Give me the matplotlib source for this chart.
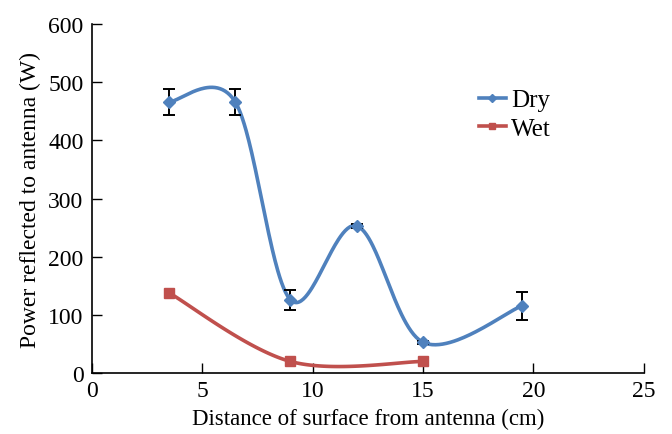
import numpy as np
import matplotlib
matplotlib.use("Agg")
import matplotlib.pyplot as plt

# measured reflected power vs distance of surface from antenna
dry_x = [3.5, 6.5, 9, 12, 15, 19.5]
dry_y = [466, 466, 126, 253, 53, 116]
dry_err = [23, 23, 17, 3, 3, 24]

wet_x = [3.5, 9, 15]
wet_y = [138, 20, 20]

x_ticks = [0, 5, 10, 15, 20, 25]
y_ticks = [0, 100, 200, 300, 400, 500, 600]


def smooth(xs, ys, n=60):
    """Spreadsheet-style smoothed line: cubic Bezier through the points."""
    p = np.column_stack([xs, ys]).astype(float)
    ext = np.vstack([p[0], p, p[-1]])
    out = []
    t = np.linspace(0, 1, n)[:, None]
    for i in range(len(p) - 1):
        p0, p1 = p[i], p[i + 1]
        c1 = p0 + (ext[i + 2] - ext[i]) / 6
        c2 = p1 - (ext[i + 3] - ext[i + 1]) / 6
        seg = ((1 - t) ** 3 * p0 + 3 * (1 - t) ** 2 * t * c1
               + 3 * (1 - t) * t ** 2 * c2 + t ** 3 * p1)
        out.append(seg if i == 0 else seg[1:])
    out = np.vstack(out)
    return out[:, 0], out[:, 1]


plt.rcParams['font.family'] = ['Liberation Serif', 'DejaVu Serif']

blue = '#4F81BD'
red = '#C0504D'

fig = plt.figure(figsize=(6.72, 4.35), dpi=100)
ax = fig.add_axes([0.1365, 0.140, 0.8215, 0.8025])

sx, sy = smooth(dry_x, dry_y)
ax.plot(sx, sy, color=blue, lw=2.6, solid_capstyle='round', zorder=2)
ax.errorbar(dry_x, dry_y, yerr=dry_err, fmt='none', ecolor='black',
            elinewidth=1.4, capsize=4, capthick=1.4, zorder=3)
ax.plot(dry_x, dry_y, 'D', color=blue, ms=6.5, zorder=4)

wx, wy = smooth(wet_x, wet_y)
ax.plot(wx, wy, color=red, lw=2.6, solid_capstyle='round', zorder=2)
ax.plot(wet_x, wet_y, 's', color=red, ms=7.5, zorder=4)

# legend proxies: line with a marker in the middle
ax.plot([], [], '-', marker='D', color=blue, lw=2.6, ms=4, label='Dry')
ax.plot([], [], '-', marker='s', color=red, lw=2.6, ms=5, label='Wet')
ax.legend(loc='upper left', bbox_to_anchor=(0.678, 0.85), frameon=False,
          handlelength=1.1, handletextpad=0.2, borderpad=0, labelspacing=0.25,
          fontsize=18)

ax.set_xlim(0, 25)
ax.set_ylim(0, 600)
ax.set_xticks(x_ticks)
ax.set_yticks(y_ticks)
ax.tick_params(direction='in', length=7, width=1.0, labelsize=17)
ax.tick_params(axis='y', pad=6)
ax.tick_params(axis='x', pad=5)
for s in ['top', 'right']:
    ax.spines[s].set_visible(False)
for s in ['left', 'bottom']:
    ax.spines[s].set_linewidth(1.2)

ax.set_xlabel('Distance of surface from antenna (cm)', fontsize=16.5, labelpad=5)
ax.set_ylabel('Power reflected to antenna (W)', fontsize=17, labelpad=5)

fig.savefig('out.png', dpi=100)
